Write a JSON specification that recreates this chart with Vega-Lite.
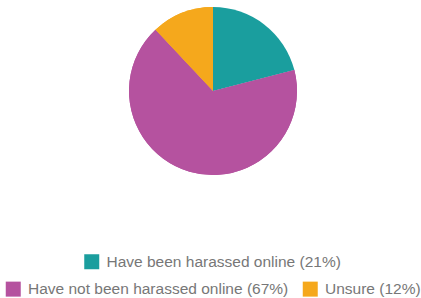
{
  "$schema": "https://vega.github.io/schema/vega-lite/v6.json",
  "width": 416,
  "height": 182,
  "autosize": "none",
  "padding": {"left": 5, "top": 0, "right": 0, "bottom": 116},
  "background": "white",
  "data": {
    "values": [
      {"category": "Have been harassed online (21%)", "value": 21},
      {"category": "Have not been harassed online (67%)", "value": 67},
      {"category": "Unsure (12%)", "value": 12}
    ]
  },
  "config": {
    "view": {"stroke": null},
    "legend": {
      "labelFont": "Liberation Sans",
      "labelFontSize": 15.5,
      "labelColor": "#777777",
      "labelLimit": 400,
      "symbolType": "square",
      "symbolSize": 225,
      "symbolStrokeWidth": 0,
      "labelOffset": 7,
      "padding": 0,
      "columnPadding": 14,
      "title": null
    }
  },
  "encoding": {
    "theta": {"field": "value", "type": "quantitative", "stack": true},
    "order": {"field": "category", "sort": "ascending"}
  },
  "layer": [
    {
      "mark": {"type": "arc", "radius": 84},
      "encoding": {
        "fill": {
          "field": "category",
          "type": "nominal",
          "scale": {
            "domain": ["Have not been harassed online (67%)", "Unsure (12%)"],
            "range": ["#b5529f", "#f5a81c"]
          },
          "legend": {
            "title": null,
            "orient": "none",
            "direction": "horizontal",
            "values": ["Have not been harassed online (67%)", "Unsure (12%)"],
            "legendX": 0.5,
            "legendY": 281
          }
        }
      }
    },
    {
      "mark": {"type": "arc", "radius": 84},
      "encoding": {
        "color": {
          "field": "category",
          "type": "nominal",
          "scale": {
            "domain": ["Have been harassed online (21%)", "Have not been harassed online (67%)", "Unsure (12%)"],
            "range": ["#1a9e9e", "#b5529f", "#f5a81c"]
          },
          "legend": {
            "title": null,
            "orient": "none",
            "direction": "horizontal",
            "values": ["Have been harassed online (21%)"],
            "legendX": 79,
            "legendY": 254
          }
        }
      }
    }
  ]
}
